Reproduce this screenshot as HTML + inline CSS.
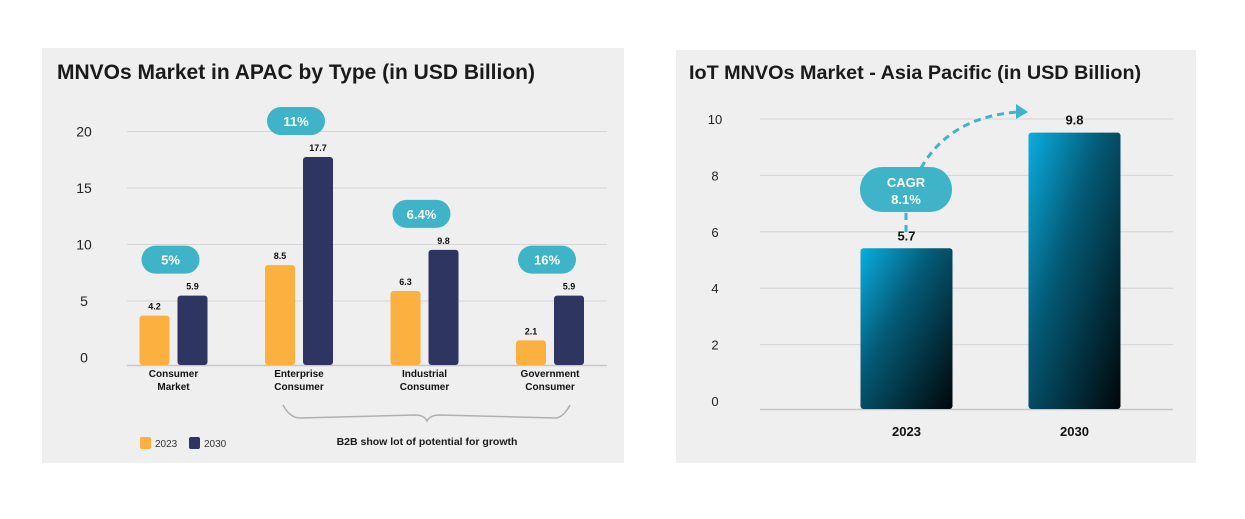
<!DOCTYPE html>
<html><head><meta charset="utf-8"><style>
body{margin:0;background:#fff;width:1245px;height:519px;overflow:hidden;font-family:"Liberation Sans",sans-serif}
svg{display:block}
</style></head><body>
<svg width="1245" height="519">
<defs><linearGradient id="g" x1="0" y1="0" x2="1" y2="1"><stop offset="0" stop-color="#0aaee0"/><stop offset="0.4" stop-color="#045a76"/><stop offset="1" stop-color="#010608"/></linearGradient></defs>
<rect x="42" y="48" width="582" height="415" fill="#efefef"/>
<rect x="676" y="50" width="520" height="413" fill="#efefef"/>
<text x="57" y="79" font-size="21" font-weight="bold" fill="#1a1a1a">MNVOs Market in APAC by Type (in USD Billion)</text>
<text x="689" y="79" font-size="19.8" font-weight="bold" fill="#1a1a1a">IoT MNVOs Market - Asia Pacific (in USD Billion)</text>
<g id="L"></g><g id="R"></g>
<path d="M283,405 Q290,418 300,418 L415,415 Q424,415 427,421 Q430,415 440,415 L555,418 Q563,418 570,405" fill="none" stroke="#b0b0b0" stroke-width="1.5"/>
<text x="427" y="445" font-size="10.5" font-weight="bold" text-anchor="middle" fill="#1a1a1a">B2B show lot of potential for growth</text>
<rect x="140" y="437" width="11" height="12" rx="2" fill="#fbb040"/>
<text x="155" y="447" font-size="10" fill="#333">2023</text>
<rect x="189" y="437" width="11" height="12" rx="2" fill="#2e3561"/>
<text x="204" y="447" font-size="10" fill="#333">2030</text>
</svg>
<script>
const NS='http://www.w3.org/2000/svg';
function mk(p,t,a,txt){const e=document.createElementNS(NS,t);for(const k in a)e.setAttribute(k,a[k]);if(txt!=null)e.textContent=txt;p.appendChild(e);return e;}
// left chart data
const cats=['Consumer|Market','Enterprise|Consumer','Industrial|Consumer','Government|Consumer'];
const v2023=[4.2,8.5,6.3,2.1];
const v2030=[5.9,17.7,9.8,5.9];
const cagr=['5%','11%','6.4%','16%'];
const lTicks=[0,5,10,15,20];
// right chart data
const years=['2023','2030'];
const rVals=[5.7,9.8];
const rTicks=[0,2,4,6,8,10];

const L=document.getElementById('L');
const gy=v=>357.5-v*11.3, by=v=>365-v*11.75, cx=i=>173.5+i*125.5;
lTicks.forEach(t=>{
 if(t>0){const l=mk(L,'line',{x1:127,x2:607,y1:gy(t),y2:gy(t),stroke:'#d4d4d4','stroke-width':1});
 }
 const tx=mk(L,'text',{x:84,y:gy(t)+5,'font-size':14,'text-anchor':'middle',fill:'#222'},t);
 
});
const base=mk(L,'line',{x1:127,x2:607,y1:365.5,y2:365.5,stroke:'#c8c8c8','stroke-width':1.5});

cats.forEach((c,i)=>{
 [[v2023[i],'#fbb040',-34],[v2030[i],'#2e3561',4]].forEach(([v,col,off],k)=>{
  const r=mk(L,'rect',{x:cx(i)+off,y:by(v),width:30,height:365-by(v),rx:3,fill:col});
  
  const t=mk(L,'text',{x:cx(i)+off+15,y:by(v)-6,'font-size':9,'font-weight':'bold','text-anchor':'middle',fill:'#111'},v.toFixed(1));
  
 });
 c.split('|').forEach((s,j)=>{const t=mk(L,'text',{x:cx(i),y:377+j*13,'font-size':10,'font-weight':'bold','text-anchor':'middle',fill:'#111'},s);
  });
 const top=Math.min(by(v2023[i]),by(v2030[i]));
 const py=top-36;
 const p=mk(L,'rect',{x:cx(i)-32,y:py-14,width:58,height:28,rx:14,fill:'#3fb4c9'});
 
 const t=mk(L,'text',{x:cx(i)-3,y:py+5,'font-size':13,'font-weight':'bold','text-anchor':'middle',fill:'#fff'},cagr[i]);
 
});

const R=document.getElementById('R');
const ry=v=>401-v*28.2, rby=v=>409-v*28.2, rx=i=>906.5+i*168;
rTicks.forEach(t=>{
 const l=mk(R,'line',{x1:760,x2:1173,y1:t?ry(t):409.5,y2:t?ry(t):409.5,stroke:t?'#d4d4d4':'#c8c8c8','stroke-width':t?1:1.5});
 
 const tx=mk(R,'text',{x:715,y:ry(t)+5,'font-size':13,'text-anchor':'middle',fill:'#222'},t);
 
});
years.forEach((y,i)=>{
 const r=mk(R,'rect',{x:rx(i)-46,y:rby(rVals[i]),width:92,height:409-rby(rVals[i]),rx:3,fill:'url(#g)'});
 
 const t=mk(R,'text',{x:rx(i),y:rby(rVals[i])-8,'font-size':13,'font-weight':'bold','text-anchor':'middle',fill:'#111'},rVals[i].toFixed(1));
 
 const x=mk(R,'text',{x:rx(i),y:436,'font-size':13,'font-weight':'bold','text-anchor':'middle',fill:'#111'},y);
 
});
const a=mk(R,'path',{d:'M906,232 L906,212 M921,168 Q950,117 1018,112',fill:'none',stroke:'#3fb4c9','stroke-width':3,'stroke-dasharray':'7,5'});

const ah=mk(R,'path',{d:'M1016,104 L1028,112 L1016,119 Z',fill:'#3fb4c9'});

const cp=mk(R,'rect',{x:860,y:167,width:92,height:45,rx:22,fill:'#3fb4c9'});

[['CAGR',187],['8.1%',204]].forEach(([s,y])=>{const t=mk(R,'text',{x:906,y:y,'font-size':13,'font-weight':'bold','text-anchor':'middle',fill:'#fff'},s);
 });
</script>
</body></html>
